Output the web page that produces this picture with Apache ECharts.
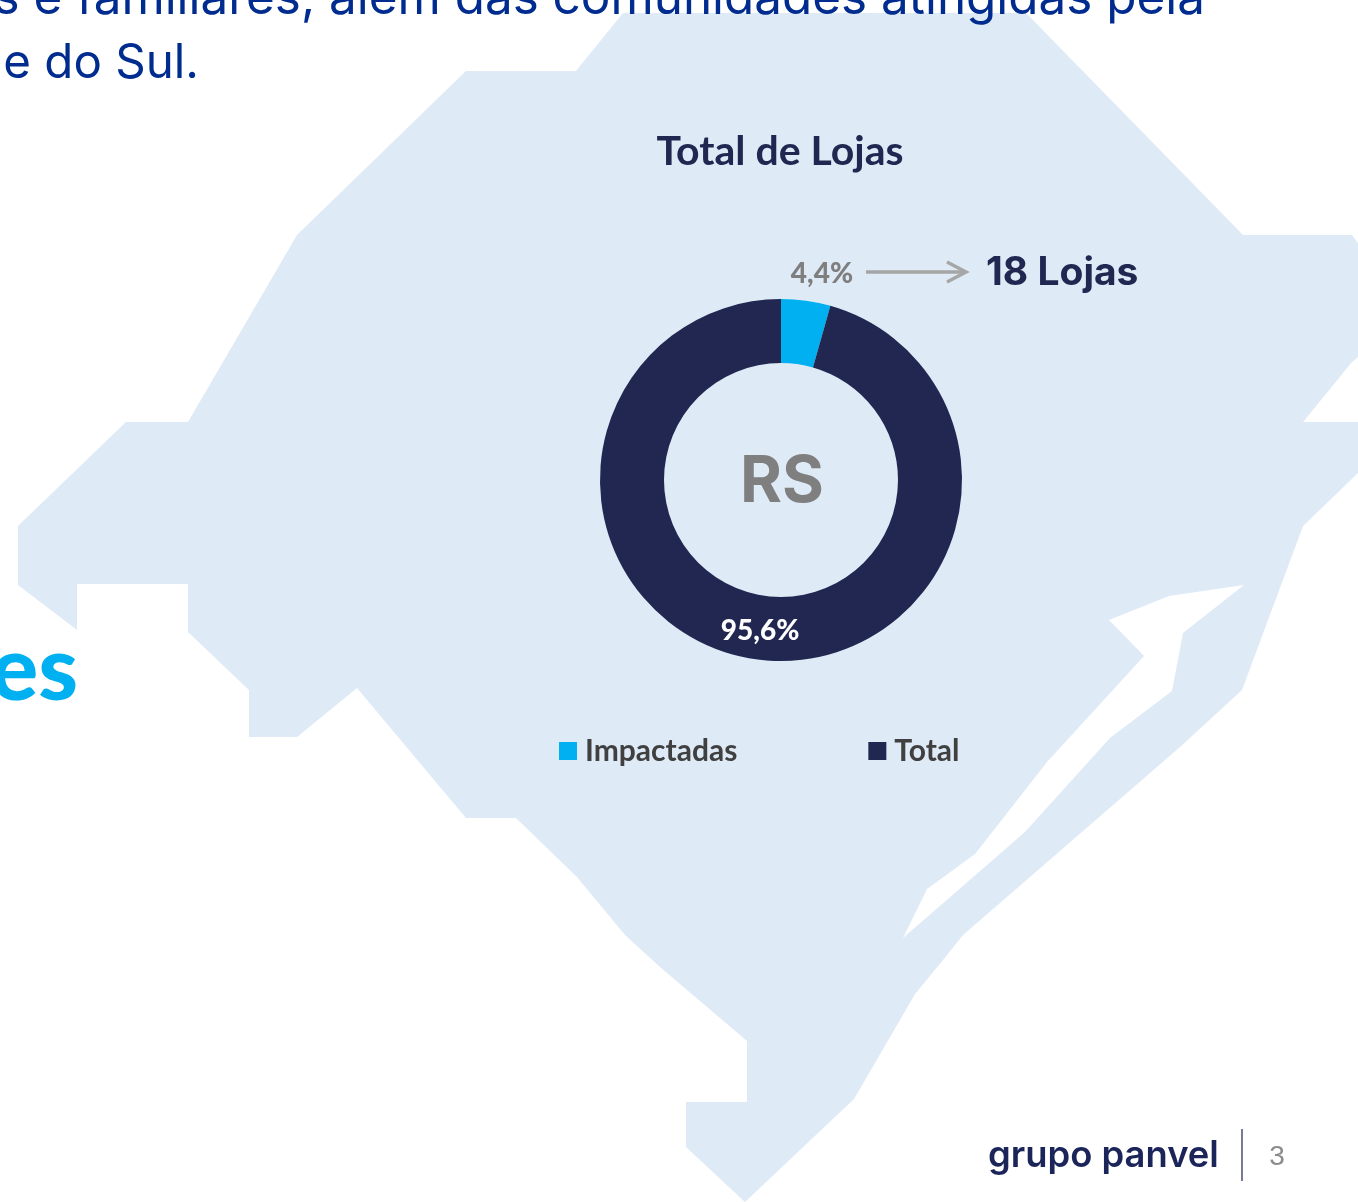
<!DOCTYPE html>
<html>
<head>
<meta charset="utf-8">
<style>html,body{margin:0;padding:0;background:#fff;overflow:hidden}#c{width:1358px;height:1202px}</style>
<script src="https://cdn.jsdelivr.net/npm/echarts@6/dist/echarts.min.js"></script>
</head>
<body>
<div id="c"></div>
<script>
const categories = ['Impactadas', 'Total'];
const shareValues = [4.4, 95.6];
const impactedStores = 18;
const chartTitle = 'Total de Lojas';
const centerLabel = 'RS';

const mapOutline = [[623,13],[1026,13],[1243,235],[1352,235],[1358,243],[1358,357],[1352,362],[1303,422],[1358,422],[1358,473],[1303,526],[1242,690],[1180,747],[963,935],[943,960],[915,994],[854,1099],[745,1202],[686,1147],[686,1102],[747,1102],[747,1041],[660,967],[625,935],[577,877],[516,818],[466,818],[357,688],[297,737],[249,737],[249,690],[188,632],[188,584],[77,584],[77,630],[18,585],[18,526],[126,422],[188,422],[297,235],[466,71],[576,71]];
const mapInlet = [[903,938],[927,889],[975,854],[1047,762],[1144,656],[1109,620],[1169,596],[1244,585],[1183,633],[1172,691],[1110,738],[1025,832]];

const DARK = '#212751', CYAN = '#00b0f0', MAP = '#deeaf6';
const pct = v => v.toFixed(1).replace('.', ',') + '%';

const chart = echarts.init(document.getElementById('c'), null, {renderer: 'canvas'});
chart.setOption({
  animation: false,
  backgroundColor: '#fff',
  title: {
    text: chartTitle, left: 775, top: 126, textAlign: 'center', z: 5,
    textStyle: {fontFamily: 'Lato', fontWeight: 'bold', fontSize: 41, color: DARK}
  },
  legend: {
    left: 554, top: 731, itemWidth: 18, itemHeight: 18, itemGap: 131, icon: 'rect', z: 5,
    textStyle: {fontFamily: 'Lato', fontWeight: 'bold', fontSize: 30, color: '#404040', padding: [0, 0, 0, 3]},
    data: categories
  },
  series: [{
    type: 'pie', z: 4,
    center: [781, 480], radius: [117, 181], startAngle: 90, clockwise: true, silent: true,
    labelLine: {show: false},
    labelLayout: p => p.dataIndex === 0 ? {x: 822, y: 274, align: 'center', verticalAlign: 'middle'} : {},
    data: categories.map((name, i) => ({
      name, value: shareValues[i],
      itemStyle: {color: i === 0 ? CYAN : DARK},
      label: {
        show: true, formatter: pct(shareValues[i]), position: i === 0 ? 'outside' : 'inside',
        fontFamily: 'Lato', fontWeight: 900, fontSize: 28, color: i === 0 ? '#7f7f7f' : '#fff'
      }
    }))
  }],
  graphic: [
    {type: 'polygon', z: 0, shape: {points: mapOutline}, style: {fill: MAP}},
    {type: 'polygon', z: 1, shape: {points: mapInlet}, style: {fill: '#fff'}},
    {type: 'text', z: 2, x: 1205, y: -25.5, style: {text: 's e familiares, além das comunidades atingidas pela', align: 'right', font: '49.4px Inter', fill: '#002c8f'}},
    {type: 'text', z: 2, x: 199, y: 40, style: {text: 'le do Sul.', align: 'right', font: '47.5px Inter', fill: '#002c8f'}},
    {type: 'text', z: 2, x: 78, y: 626, style: {text: 'es', align: 'right', font: '900 90px Lato', fill: CYAN}},
    {type: 'text', z: 6, x: 782, y: 483, style: {text: centerLabel, align: 'center', verticalAlign: 'middle', font: 'bold 64px Inter', fill: '#7f7f7f'}},
    {type: 'polyline', z: 6, shape: {points: [[866,272],[965,272]]}, style: {stroke: '#a6a6a6', lineWidth: 3.5, fill: null}},
    {type: 'polyline', z: 6, shape: {points: [[947,262],[966,272],[947,282]]}, style: {stroke: '#a6a6a6', lineWidth: 3.5, fill: null}},
    {type: 'text', z: 6, x: 986, y: 273.5, style: {text: impactedStores + ' Lojas', align: 'left', verticalAlign: 'middle', font: 'bold 39px Inter', fill: DARK}},
    {type: 'text', z: 6, x: 988, y: 1156, style: {text: 'grupo panvel', align: 'left', verticalAlign: 'middle', font: '600 36.4px Inter', fill: '#1c2559'}},
    {type: 'line', z: 6, shape: {x1: 1242, y1: 1129, x2: 1242, y2: 1181}, style: {stroke: '#4a4f70', lineWidth: 1.5}},
    {type: 'text', z: 6, x: 1277, y: 1157, style: {text: '3', align: 'center', verticalAlign: 'middle', font: '28px "Liberation Sans"', fill: '#8c8c8c'}}
  ]
});
</script>
</body>
</html>
